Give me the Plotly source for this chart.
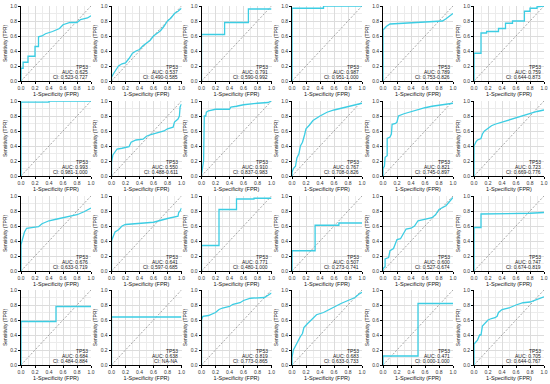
import plotly.graph_objects as go

W, H = 550, 384

gene = "TP53"
auc_vals = ["0.625", "0.537", "0.791", "0.987", "0.789", "0.759",
            "0.993", "0.550", "0.910", "0.767", "0.821", "0.723",
            "0.676", "0.641", "0.771", "0.507", "0.600", "0.747",
            "0.684", "0.638", "0.819", "0.683", "0.471", "0.705"]
ci_vals = ["0.523-0.727", "0.490-0.585", "0.590-0.992", "0.951-1.000", "0.753-0.826", "0.644-0.873",
           "0.981-1.000", "0.488-0.611", "0.837-0.983", "0.708-0.826", "0.745-0.897", "0.669-0.776",
           "0.633-0.719", "0.597-0.685", "0.480-1.000", "0.273-0.741", "0.527-0.674", "0.674-0.819",
           "0.484-0.884", "NA-NA", "0.773-0.865", "0.633-0.733", "0.000-1.000", "0.644-0.767"]

fpr_01 = [0, 0, 0.03, 0.03, 0.1, 0.1, 0.2, 0.2, 0.25, 0.25, 0.3, 0.35, 0.45, 0.5, 0.55, 0.6, 0.7, 0.8, 0.85, 0.95, 1.0]
tpr_01 = [0, 0.17, 0.17, 0.25, 0.25, 0.33, 0.33, 0.46, 0.46, 0.59, 0.6, 0.63, 0.66, 0.68, 0.7, 0.75, 0.78, 0.78, 0.82, 0.84, 0.87]
fpr_02 = [0, 0, 0.03, 0.06, 0.1, 0.15, 0.2, 0.25, 0.3, 0.35, 0.4, 0.45, 0.5, 0.55, 0.6, 0.65, 0.7, 0.75, 0.8, 0.85, 0.9, 0.95, 1.0]
tpr_02 = [0, 0.05, 0.1, 0.14, 0.2, 0.23, 0.24, 0.3, 0.37, 0.4, 0.42, 0.47, 0.5, 0.54, 0.6, 0.63, 0.67, 0.73, 0.8, 0.84, 0.9, 0.93, 0.97]
fpr_03 = [0, 0, 0.33, 0.33, 0.67, 0.67, 1.0]
tpr_03 = [0, 0.62, 0.62, 0.78, 0.78, 0.96, 0.96]
fpr_04 = [0, 0, 0.45, 0.45, 1.0]
tpr_04 = [0, 0.97, 0.97, 1.0, 1.0]
fpr_05 = [0, 0, 0.02, 0.05, 0.1, 0.3, 0.5, 0.7, 0.85, 0.9, 0.95, 1.0]
tpr_05 = [0, 0.68, 0.7, 0.73, 0.76, 0.77, 0.78, 0.79, 0.8, 0.83, 0.86, 0.9]
fpr_06 = [0, 0, 0.1, 0.1, 0.18, 0.18, 0.35, 0.35, 0.45, 0.45, 0.55, 0.55, 0.72, 0.72, 0.8, 0.8, 0.9, 0.9, 1.0]
tpr_06 = [0, 0.37, 0.37, 0.64, 0.64, 0.66, 0.66, 0.7, 0.7, 0.77, 0.77, 0.8, 0.8, 0.93, 0.93, 0.97, 0.97, 0.99, 1.0]
fpr_07 = [0, 0, 0.4, 0.4, 1.0]
tpr_07 = [0, 0.985, 0.985, 1.0, 1.0]
fpr_08 = [0, 0, 0.02, 0.05, 0.08, 0.15, 0.25, 0.28, 0.35, 0.45, 0.5, 0.55, 0.65, 0.75, 0.8, 0.88, 0.9, 0.95, 0.97, 0.98, 1.0]
tpr_08 = [0, 0.18, 0.28, 0.33, 0.36, 0.37, 0.39, 0.45, 0.48, 0.49, 0.53, 0.55, 0.58, 0.6, 0.63, 0.65, 0.72, 0.76, 0.8, 0.92, 0.96]
fpr_09 = [0, 0, 0.03, 0.04, 0.06, 0.07, 0.1, 0.15, 0.2, 0.4, 0.42, 0.5, 0.6, 0.8, 0.95, 1.0]
tpr_09 = [0, 0.02, 0.2, 0.8, 0.8, 0.85, 0.87, 0.88, 0.89, 0.89, 0.92, 0.93, 0.95, 0.97, 0.98, 1.0]
fpr_10 = [0, 0, 0.02, 0.05, 0.07, 0.1, 0.12, 0.15, 0.18, 0.2, 0.25, 0.3, 0.4, 0.5, 0.6, 0.7, 0.8, 0.9, 1.0]
tpr_10 = [0, 0.05, 0.1, 0.13, 0.24, 0.3, 0.4, 0.45, 0.55, 0.63, 0.68, 0.74, 0.8, 0.85, 0.88, 0.9, 0.92, 0.94, 0.97]
fpr_11 = [0, 0, 0.02, 0.03, 0.06, 0.06, 0.1, 0.12, 0.13, 0.18, 0.2, 0.22, 0.3, 0.4, 0.5, 0.6, 0.7, 0.8, 0.9, 1.0]
tpr_11 = [0, 0.1, 0.13, 0.25, 0.27, 0.5, 0.52, 0.56, 0.69, 0.7, 0.72, 0.8, 0.83, 0.86, 0.89, 0.91, 0.93, 0.94, 0.95, 0.97]
fpr_12 = [0, 0, 0.03, 0.05, 0.1, 0.12, 0.15, 0.2, 0.25, 0.3, 0.4, 0.5, 0.6, 0.7, 0.8, 0.9, 1.0]
tpr_12 = [0, 0.4, 0.46, 0.48, 0.5, 0.56, 0.6, 0.64, 0.67, 0.69, 0.72, 0.75, 0.78, 0.81, 0.83, 0.86, 0.88]
fpr_13 = [0, 0, 0.02, 0.05, 0.08, 0.15, 0.25, 0.3, 0.4, 0.5, 0.6, 0.7, 0.8, 0.9, 1.0]
tpr_13 = [0, 0.35, 0.42, 0.52, 0.57, 0.58, 0.59, 0.63, 0.67, 0.69, 0.71, 0.72, 0.75, 0.79, 0.84]
fpr_14 = [0, 0, 0.02, 0.05, 0.1, 0.15, 0.2, 0.4, 0.6, 0.8, 0.9, 0.95, 0.96, 0.98, 1.0]
tpr_14 = [0, 0.4, 0.45, 0.52, 0.55, 0.6, 0.62, 0.63, 0.65, 0.7, 0.72, 0.73, 0.78, 0.8, 0.84]
fpr_15 = [0, 0, 0.25, 0.25, 0.5, 0.5, 0.75, 0.75, 1.0]
tpr_15 = [0, 0.34, 0.34, 0.82, 0.82, 0.96, 0.96, 0.97, 0.97]
fpr_16 = [0, 0, 0.33, 0.33, 0.67, 0.67, 1.0]
tpr_16 = [0, 0.27, 0.27, 0.61, 0.61, 0.64, 0.64]
fpr_17 = [0, 0, 0.03, 0.03, 0.08, 0.1, 0.15, 0.2, 0.25, 0.3, 0.33, 0.4, 0.45, 0.5, 0.6, 0.65, 0.7, 0.75, 0.8, 0.9, 0.95, 1.0]
tpr_17 = [0, 0.03, 0.06, 0.16, 0.18, 0.27, 0.3, 0.42, 0.43, 0.52, 0.56, 0.57, 0.6, 0.67, 0.69, 0.7, 0.71, 0.75, 0.82, 0.87, 0.93, 0.98]
fpr_18 = [0, 0, 0.1, 0.1, 0.8, 1.0]
tpr_18 = [0, 0.58, 0.58, 0.76, 0.77, 0.78]
fpr_19 = [0, 0, 0.5, 0.5, 1.0]
tpr_19 = [0, 0.58, 0.58, 0.78, 0.78]
fpr_20 = [0, 0, 1.0]
tpr_20 = [0, 0.64, 0.64]
fpr_21 = [0, 0, 0.02, 0.1, 0.2, 0.25, 0.3, 0.4, 0.45, 0.55, 0.6, 0.7, 0.9, 0.95, 1.0]
tpr_21 = [0, 0.6, 0.65, 0.66, 0.7, 0.74, 0.76, 0.78, 0.81, 0.83, 0.86, 0.89, 0.9, 0.93, 0.96]
fpr_22 = [0, 0, 0.02, 0.05, 0.08, 0.12, 0.15, 0.17, 0.22, 0.3, 0.35, 0.45, 0.55, 0.6, 0.7, 0.8, 0.9, 0.95, 1.0]
tpr_22 = [0, 0.1, 0.2, 0.26, 0.32, 0.38, 0.42, 0.5, 0.55, 0.63, 0.67, 0.7, 0.75, 0.78, 0.82, 0.86, 0.9, 0.94, 0.97]
fpr_23 = [0, 0, 0.5, 0.5, 1.0]
tpr_23 = [0, 0.12, 0.12, 0.82, 0.82]
fpr_24 = [0, 0, 0.02, 0.05, 0.08, 0.1, 0.12, 0.15, 0.2, 0.25, 0.3, 0.33, 0.35, 0.4, 0.5, 0.6, 0.7, 0.8, 0.9, 1.0]
tpr_24 = [0, 0.28, 0.3, 0.33, 0.4, 0.4, 0.52, 0.55, 0.6, 0.62, 0.63, 0.65, 0.7, 0.74, 0.76, 0.8, 0.83, 0.84, 0.88, 0.91]

fprs = [fpr_01, fpr_02, fpr_03, fpr_04, fpr_05, fpr_06, fpr_07, fpr_08, fpr_09, fpr_10, fpr_11, fpr_12,
        fpr_13, fpr_14, fpr_15, fpr_16, fpr_17, fpr_18, fpr_19, fpr_20, fpr_21, fpr_22, fpr_23, fpr_24]
tprs = [tpr_01, tpr_02, tpr_03, tpr_04, tpr_05, tpr_06, tpr_07, tpr_08, tpr_09, tpr_10, tpr_11, tpr_12,
        tpr_13, tpr_14, tpr_15, tpr_16, tpr_17, tpr_18, tpr_19, tpr_20, tpr_21, tpr_22, tpr_23, tpr_24]

tick_vals = [0, 0.2, 0.4, 0.6, 0.8, 1.0]
tick_text = ["0.0", "0.2", "0.4", "0.6", "0.8", "1.0"]

col_x0 = [21, 111.5, 201.5, 292, 383, 474]
row_top = [6, 101, 196, 290]
PW, PH = 70, 75

FONT = "Liberation Sans, Arial, sans-serif"
LINE_COLOR = "#3ccde3"

fig = go.Figure()
layout = dict(width=W, height=H, margin=dict(l=0, r=0, t=0, b=0),
              plot_bgcolor="white", paper_bgcolor="white", showlegend=False,
              font=dict(family=FONT, size=5, color="#222"))
annotations = []
for i in range(24):
    r, c = divmod(i, 6)
    sfx = "" if i == 0 else str(i + 1)
    xa, ya = "x" + sfx, "y" + sfx
    x0 = col_x0[c] / W
    x1 = (col_x0[c] + PW) / W
    y1 = 1 - row_top[r] / H
    y0 = 1 - (row_top[r] + PH) / H
    axis_common = dict(range=[0, 1], tickvals=tick_vals, ticktext=tick_text, automargin=False,
                       showgrid=True, gridcolor="#dcdcdc", gridwidth=0.6,
                       minor=dict(dtick=0.1, tick0=0, showgrid=True, gridcolor="#ececec", gridwidth=0.5),
                       showline=True, linecolor="black", linewidth=0.8,
                       ticks="outside", ticklen=2, tickwidth=0.6, tickcolor="black",
                       tickfont=dict(size=5, color="#333"), zeroline=False, fixedrange=True)
    layout["xaxis" + sfx] = dict(axis_common, domain=[x0, x1], anchor=ya,
                                 title=dict(text="1-Specificity (FPR)", font=dict(size=5.5, color="#111"), standoff=2))
    layout["yaxis" + sfx] = dict(axis_common, domain=[y0, y1], anchor=xa,
                                 title=dict(text="Sensitivity (TPR)", font=dict(size=5, color="#111"), standoff=2))
    fig.add_trace(go.Scatter(x=[0, 1], y=[0, 1], mode="lines", xaxis=xa, yaxis=ya,
                             line=dict(color="#808080", width=0.7, dash="2px,1.6px"), hoverinfo="skip"))
    fig.add_trace(go.Scatter(x=fprs[i], y=tprs[i], mode="lines", xaxis=xa, yaxis=ya,
                             line=dict(color=LINE_COLOR, width=1.3)))
    for txt, yy in [(gene, 0.19), ("AUC: " + auc_vals[i], 0.12), ("CI: " + ci_vals[i], 0.05)]:
        annotations.append(dict(x=0.98, y=yy, xref=xa, yref=ya, text=txt, showarrow=False,
                                xanchor="right", yanchor="middle", font=dict(size=5, color="#222")))
layout["annotations"] = annotations
fig.update_layout(**layout)
fig.write_html("out.html", config={"displayModeBar": False},
               post_script="document.body.style.margin='0';document.body.style.padding='0';")
